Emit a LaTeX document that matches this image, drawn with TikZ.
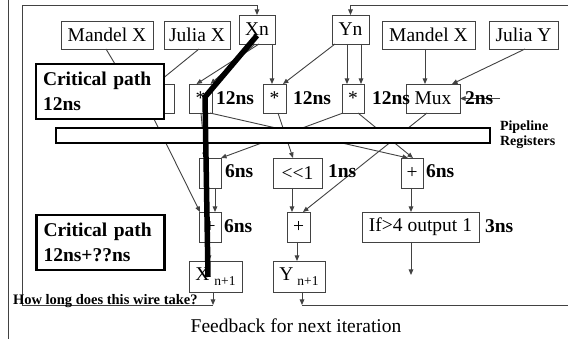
\documentclass[tikz,border=0pt]{standalone}
\usepackage{fontspec}
\setmainfont{Liberation Serif}
\usetikzlibrary{arrows.meta}
\definecolor{linegray}{RGB}{66,66,66}
\begin{document}
\begin{tikzpicture}[x=1pt,y=-1pt,
  every node/.style={inner sep=0pt, outer sep=0pt},
  lc/.style={draw=linegray, line width=0.9pt},
  conn/.style={lc, -{Triangle[length=5.5pt,width=4.5pt]}},
  boxn/.style={draw=linegray, line width=0.9pt, fill=white, font=\fontsize{19.5}{21}\selectfont},
  tlbl/.style={font=\bfseries\fontsize{19.5}{21}\selectfont, anchor=base west},
  cpbox/.style={draw=black, line width=2.8pt, fill=white, text width=114pt, inner xsep=7pt, minimum height=55pt, align=left, font=\bfseries\fontsize{19.5}{24.5}\selectfont},
]
\fill[white] (0,0) rectangle (568,339);
\useasboundingbox (0,0) rectangle (568,339);

% frame line
\draw[lc] (8,0) -- (8,339);

% boxes
\node[boxn, minimum width=92pt, minimum height=28pt] (mx1) at (107,35) {Mandel X};
\node[boxn, minimum width=66pt, minimum height=28pt] (jx) at (197,35) {Julia X};
\node[boxn, minimum width=36pt, minimum height=29pt] (xn) at (257,29.5) {Xn};
\node[boxn, minimum width=37pt, minimum height=29pt] (yn) at (350.5,29.5) {Yn};
\node[boxn, minimum width=93pt, minimum height=28pt] (mx2) at (428.5,35) {Mandel X};
\node[boxn, minimum width=69pt, minimum height=28pt] (jy) at (523.5,35) {Julia Y};
\node[boxn, minimum width=56pt, minimum height=29pt] (hid) at (146,98.5) {};
\node[boxn, minimum width=23pt, minimum height=29pt] (m1) at (200.5,98.5) {*};
\node[boxn, minimum width=23pt, minimum height=29pt] (m2) at (274.5,98.5) {*};
\node[boxn, minimum width=22pt, minimum height=29pt] (m3) at (353,98.5) {*};
\node[boxn, minimum width=54pt, minimum height=29pt] (mux) at (433,98.5) {Mux};
\node[boxn, minimum width=22pt, minimum height=30pt] (bA) at (210,173) {};
\node[boxn, minimum width=49pt, minimum height=30pt] (shl) at (297.5,173) {<\kern0pt<\kern0pt1};
\node[boxn, minimum width=22pt, minimum height=30pt] (pA) at (412,173) {+};
\node[boxn, minimum width=22pt, minimum height=30pt] (bB) at (210,227) {+};
\node[boxn, minimum width=23pt, minimum height=30pt] (pY) at (298.5,227) {+};
\node[boxn, minimum width=117pt, minimum height=30pt] (iff) at (420.5,227) {If>4 output 1};
\node[boxn, minimum width=53pt, minimum height=31pt] (xn1) at (215.5,276.5) {X\hspace{5pt}\raisebox{-5pt}{\fontsize{13.5}{14}\selectfont n+1}};
\node[boxn, minimum width=52pt, minimum height=31pt] (yn1) at (299,276.5) {Y\hspace{4pt}\raisebox{-5pt}{\fontsize{13.5}{14}\selectfont n+1}};

% connectors
\draw[conn] ([xshift=-1pt]mx1.south) -- ([xshift=-19pt]hid.north);
\draw[conn] ([xshift=2pt]jx.south) -- ([xshift=10pt]hid.north);
\draw[conn] ([xshift=2pt]xn.south) -- ([xshift=-4pt]m1.north);
\draw[conn] ([xshift=-2pt]xn.south) -- ([xshift=10pt]m1.north);
\draw[conn] ([xshift=15pt]xn.south) -- ([xshift=-2.5pt]m2.north);
\draw[conn] ([xshift=-15.5pt]yn.south) -- ([xshift=8.5pt]m2.north);
\draw[conn] ([xshift=-3.5pt]yn.south) -- ([xshift=-6pt]m3.north);
\draw[conn] ([xshift=10.5pt]yn.south) -- ([xshift=8pt]m3.north);
\draw[conn] ([xshift=-3.5pt]mx2.south) -- ([xshift=-8pt]mux.north);
\draw[conn] ([xshift=1.5pt]jy.south) -- ([xshift=19pt]mux.north);
\coordinate (twons) at (500,98.5);
\draw[conn] (twons) -- (mux.east);
\draw[conn] ([xshift=5pt]hid.south) -- ([xshift=-10pt]bB.north);
\draw[conn] ([xshift=0.5pt]m1.south) -- ([xshift=-5pt]bA.north);
\draw[conn] ([xshift=9.5pt]m1.south) -- ([xshift=-4pt]pA.north);
\draw[conn] ([xshift=-10pt]m3.south) -- (bA.north east);
\draw[conn] ([xshift=5pt]m3.south) -- ([xshift=1pt]pA.north);
\draw[conn] ([xshift=3.5pt]m2.south) -- ([xshift=-4.5pt]shl.north);
\draw[conn] ([xshift=-6pt]mux.south) -- ([xshift=4.5pt]pY.north);
\draw[conn] ([xshift=5pt]bA.south) -- ([xshift=5pt]bB.north);
\draw[conn] ([xshift=-5.5pt]shl.south) -- ([xshift=-6.5pt]pY.north);
\draw[conn] ([xshift=-1pt]pA.south) -- ([xshift=-9.5pt]iff.north);
\coordinate (iffout) at (411,275);
\draw[conn] ([xshift=-9.5pt]iff.south) -- (iffout);
\draw[conn] ([xshift=-1pt]bB.south) -- ([xshift=-6.5pt]xn1.north);
\draw[conn] ([xshift=-1.5pt]pY.south) -- ([xshift=-2pt]yn1.north);

% feedback
\coordinate (fbx) at (213,305);
\coordinate (fbl) at (22,305);
\coordinate (fbtl) at (22,5);
\coordinate (fby) at (302,305);
\coordinate (fbr) at (568,305);
\coordinate (fbtr) at (568,5);
\draw[conn] ([xshift=-2.5pt]xn1.south) -- (fbx);
\draw[conn] ([xshift=3pt]yn1.south) -- (fby);
\draw[conn] (fbx) -- (fbl) -- (fbtl) -| (xn.north);
\draw[lc] (fby) -- (fbr);
\draw[conn] (fbtr) -| (yn.north);

% pipeline bar
\node[draw=black, line width=2.5pt, fill=white, minimum width=434pt, minimum height=15pt] (bar) at (273,135.5) {};

% critical path wire
\coordinate (tkb) at (205,97);
\coordinate (tke) at (208,277);
\draw[black, line width=5.5pt] ([yshift=-6pt]xn.center) -- (tkb) -- (tke);

% delay labels
\node[tlbl] (l1) at (216,105) {12ns};
\node[tlbl] (l2) at (293,105) {12ns};
\node[tlbl] (l3) at (372,105) {12ns};
\node[tlbl] (l4) at (465,105) {2ns};
\node[tlbl] (l5) at (225,178) {6ns};
\node[tlbl] (l6) at (328,178) {1ns};
\node[tlbl] (l7) at (426,178) {6ns};
\node[tlbl] (l8) at (224,233) {6ns};
\node[tlbl] (l9) at (485,233) {3ns};

\node[font=\bfseries\fontsize{14}{15}\selectfont, align=left, anchor=west] (pr) at (500,135) {Pipeline\\Registers};
\node[font=\bfseries\fontsize{14.5}{15}\selectfont, anchor=base west] (hl) at (13,305) {How long does this wire take?};
\node[font=\fontsize{19.5}{21}\selectfont, anchor=base] (fb) at (296,332) {Feedback for next iteration};

% critical path boxes
\node[cpbox] (cp1) at (100,91.5) {Critical path\\12ns};
\node[cpbox] (cp2) at (100.5,242.5) {Critical path\\12ns+??ns};
\end{tikzpicture}
\end{document}
